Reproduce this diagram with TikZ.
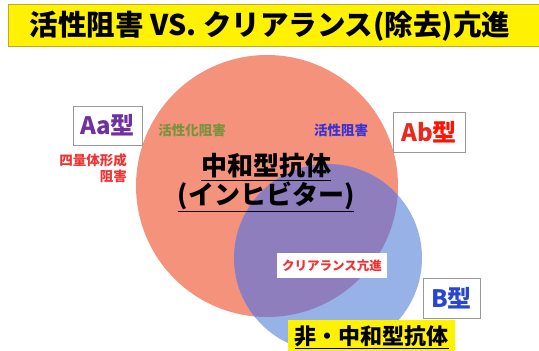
\documentclass[tikz,border=0pt]{standalone}
\usepackage{fontspec}
\setmainfont{Noto Sans CJK JP}
\definecolor{salmon}{RGB}{244,146,124}
\definecolor{lblue}{RGB}{150,178,230}
\definecolor{lap}{RGB}{142,126,190}
\definecolor{ttlbd}{RGB}{190,170,40}
\definecolor{aapurple}{RGB}{112,48,160}
\definecolor{olivet}{RGB}{119,147,60}
\definecolor{redt}{RGB}{240,50,50}
\definecolor{bluet}{RGB}{60,50,210}
\definecolor{abred}{RGB}{235,40,30}
\definecolor{btblue}{RGB}{40,70,210}
\tikzset{
  tagbox/.style={draw=gray!80, line width=0.8pt, fill=white, inner sep=0pt, font=\fontsize{24}{26}\selectfont\bfseries},
  small/.style={font=\fontsize{13.5}{16}\selectfont\bfseries, inner sep=0pt},
  big/.style={font=\fontsize{26}{32}\selectfont\bfseries, inner sep=0pt, align=center},
}
\begin{document}
\begin{tikzpicture}[x=1pt,y=-1pt]
\useasboundingbox (0,0) rectangle (539,351);
% title
\node[draw=ttlbd, line width=0.8pt, fill=yellow, minimum width=545pt, minimum height=42pt, inner sep=0pt, anchor=north west] (title) at (8,4) {};
\node[font=\fontsize{28.5}{30}\selectfont\bfseries, inner sep=0pt] (ttext) at (270,26) {活性阻害 VS. クリアランス(除去)亢進};
% circles
\fill[salmon] (267,186) circle[radius=131];
\fill[lblue] (328,258) circle[radius=94];
\begin{scope}
  \clip (267,186) circle[radius=131];
  \fill[lap] (328,258) circle[radius=94];
\end{scope}
% labels
\node[tagbox, minimum width=69pt, minimum height=39pt, text=aapurple] (aa) at (107.5,125.5) {Aa型};
\node[small, text=olivet] (kasseika) at (192,130) {活性化阻害};
\node[small, text=redt, align=right, anchor=north east] (shiryo) at (127,154) {四量体形成\\[0pt]阻害};
\node[small, text=bluet] (kassei) at (341,130) {活性阻害};
\node[tagbox, minimum width=72pt, minimum height=40pt] (ab) at (429,132) {\textcolor{abred}{Ab}\textcolor{red!85!orange}{型}};
\node[big] (chuwa) at (266,183) {\underline{中和型抗体}\\[-3pt]\underline{(インヒビター)}};
\node[fill=white, minimum width=110pt, minimum height=25pt, inner sep=0pt, font=\fontsize{12.5}{14}\selectfont\bfseries, text=redt] (clear) at (332,265.5) {クリアランス亢進};
\node[tagbox, minimum width=57pt, minimum height=40pt, text=btblue] (bt) at (451.5,298) {B型};
\node[fill=yellow, minimum width=167pt, minimum height=34pt, inner sep=0pt, font=\fontsize{22}{24}\selectfont\bfseries] (hichuwa) at (371.5,337) {\underline{非・中和型抗体}};
\end{tikzpicture}
\end{document}
